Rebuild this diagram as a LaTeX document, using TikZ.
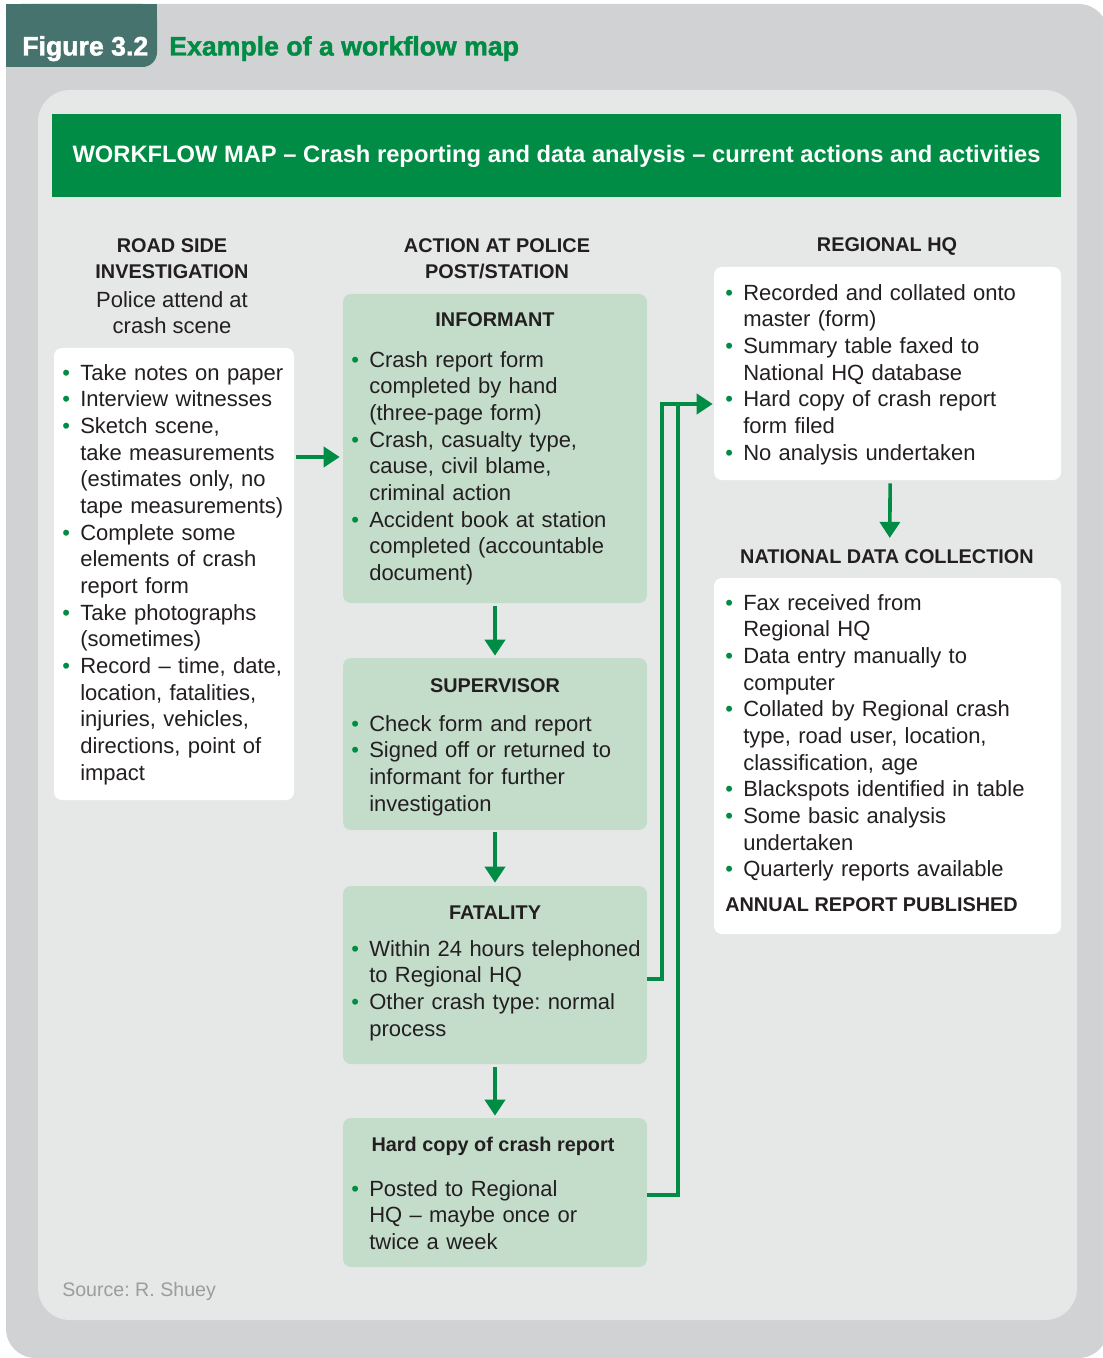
\documentclass[tikz,border=0pt]{standalone}
\usepackage{fontspec}
\setmainfont{Liberation Sans}
\newfontfamily\heavyfont{Liberation Sans}[BoldFeatures={FakeBold=1.6}]
\usetikzlibrary{arrows.meta,fit,calc}
\definecolor{outerg}{HTML}{D1D2D4}
\definecolor{innerg}{HTML}{E6E8E7}
\definecolor{tabc}{HTML}{47736F}
\definecolor{fgreen}{HTML}{008C44}
\definecolor{lgreen}{HTML}{C4DDCA}
\definecolor{txtc}{HTML}{231F20}
\definecolor{srcg}{HTML}{9B9C9E}
\newcommand\bitem{\par\hangindent=13.5pt\hangafter=1\noindent\makebox[13.5pt][l]{\textcolor{fgreen}{\textbullet}}\strut}
\newcommand\brk{\newline}
\frenchspacing
\begin{document}
\frenchspacing
\begin{tikzpicture}[x=0.75pt,y=-0.75pt,
  body/.style={font=\fontsize{16.5}{20}\selectfont\frenchspacing, text=txtc, inner sep=0pt, align=left, anchor=north west},
  headc/.style={font=\fontsize{14.9}{20}\selectfont\bfseries, text=txtc, inner sep=0pt, align=center},
  wbox/.style={fill=white, rounded corners=6pt, inner sep=0pt},
  gbox/.style={fill=lgreen, rounded corners=6pt, inner sep=0pt},
  conn/.style={draw=fgreen, line width=2.7pt, line join=miter},
  arr/.style={conn, -{Triangle[length=12pt,width=15pt]}}
]
\useasboundingbox (0,0) rectangle (1102,1358);
% panels
\fill[outerg, rounded corners=22pt] (6,4) rectangle (1108,1358);
\fill[tabc, rounded corners=11pt] (6,4) rectangle (157,67);
\fill[tabc] (6,4) rectangle (135,67);
\fill[tabc] (6,4) rectangle (157,45);
\fill[innerg, rounded corners=24pt] (38,90) rectangle (1077,1320);
% title
\node[anchor=base west, inner sep=0pt, text=white, font=\fontsize{20}{24}\heavyfont\bfseries] (figno) at (22,55.5) {Figure 3.2};
\node[anchor=base west, inner sep=0pt, text=fgreen, font=\fontsize{20}{24}\heavyfont\bfseries] (figtitle) at (169,55.5) {Example of a workflow map};
% banner
\node[fit={(52,114) (1061,197)}, inner sep=0pt, fill=fgreen] (banner) {};
\node[anchor=base, inner sep=0pt, text=white, font=\fontsize{17.8}{22}\selectfont\bfseries] (bannertxt) at (556.5,163) {WORKFLOW MAP -- Crash reporting and data analysis -- current actions and activities};
% column headings
\node[headc, anchor=north] (roadhead) at (172,233.3) {\strut ROAD SIDE\\INVESTIGATION};
\node[body, align=center, anchor=north] (roadsub) at (172,288.3) {\strut Police attend at\\crash scene};
\node[headc, anchor=north] (policehead) at (497,233.3) {\strut ACTION AT POLICE\\POST/STATION};
\node[headc, anchor=base] (hqhead) at (887,252) {REGIONAL HQ};
\node[headc, anchor=base] (nathead) at (887,563) {NATIONAL DATA COLLECTION};
% boxes
\node[wbox, fit={(54,348) (294,800)}] (road) {};
\node[gbox, fit={(343,294) (647,603)}] (informant) {};
\node[gbox, fit={(343,658) (647,830)}] (supervisor) {};
\node[gbox, fit={(343,886) (647,1064)}] (fatality) {};
\node[gbox, fit={(343,1118) (647,1267)}] (hardcopy) {};
\node[wbox, fit={(714,267) (1061,480)}] (regional) {};
\node[wbox, fit={(714,578) (1061,934)}] (national) {};
% road side text
\node[body, text width=185pt] (roadtxt) at (62,353.3) {%
\bitem Take notes on paper
\bitem Interview witnesses
\bitem Sketch scene,\brk take measurements\brk (estimates only, no\brk tape measurements)
\bitem Complete some\brk elements of crash\brk report form
\bitem Take photographs\brk (sometimes)
\bitem Record -- time, date,\brk location, fatalities,\brk injuries, vehicles,\brk directions, point of\brk impact\par};
% informant
\node[headc, anchor=base] (inftitle) at (495,327) {INFORMANT};
\node[body, text width=220pt] (inftxt) at (351,340.3) {%
\bitem Crash report form\brk completed by hand\brk (three-page form)
\bitem Crash, casualty type,\brk cause, civil blame,\brk criminal action
\bitem Accident book at station\brk completed (accountable\brk document)\par};
% supervisor
\node[headc, anchor=base] (suptitle) at (495,692) {SUPERVISOR};
\node[body, text width=220pt] (suptxt) at (351,704.3) {%
\bitem Check form and report
\bitem Signed off or returned to\brk informant for further\brk investigation\par};
% fatality
\node[headc, anchor=base] (fattitle) at (495,919) {FATALITY};
\node[body, text width=220pt] (fattxt) at (351,929.3) {%
\bitem Within 24 hours telephoned\brk to Regional HQ
\bitem Other crash type: normal\brk process\par};
% hard copy
\node[headc, anchor=base] (hctitle) at (493,1151) {Hard copy of crash report};
\node[body, text width=220pt] (hctxt) at (351,1169.3) {%
\bitem Posted to Regional\brk HQ -- maybe once or\brk twice a week\par};
% regional
\node[body, text width=250pt] (regtxt) at (725,273.3) {%
\bitem Recorded and collated onto\brk master (form)
\bitem Summary table faxed to\brk National HQ database
\bitem Hard copy of crash report\brk form filed
\bitem No analysis undertaken\par};
% national
\node[body, text width=250pt] (nattxt) at (725,583.3) {%
\bitem Fax received from\brk Regional HQ
\bitem Data entry manually to\brk computer
\bitem Collated by Regional crash\brk type, road user, location,\brk classification, age
\bitem Blackspots identified in table
\bitem Some basic analysis\brk undertaken
\bitem Quarterly reports available\par};
\node[headc, anchor=base west] (annual) at (725,911) {ANNUAL REPORT PUBLISHED};
% source
\node[anchor=base west, inner sep=0pt, text=srcg, font=\fontsize{14.7}{18}\selectfont\frenchspacing] (source) at (62,1296) {Source: R. Shuey};
% connectors
\coordinate (rowA) at (0,457);
\draw[arr, shorten <=1.5pt, shorten >=2.25pt] (road.east |- rowA) -- (informant.west |- rowA);
\draw[arr, shorten <=2.25pt, shorten >=1.5pt] (informant.south) -- (supervisor.north);
\draw[arr, shorten <=1.5pt, shorten >=2.25pt] (supervisor.south) -- (fatality.north);
\draw[arr, shorten <=2.25pt, shorten >=1.5pt] (fatality.south) -- (hardcopy.north);
\coordinate (busA) at (662,404);
\coordinate (busB) at (678,404);
\draw[conn] ([yshift=-1.9pt]hardcopy.east) -| (busB);
\draw[arr, shorten >=0.75pt] ([yshift=-3pt]fatality.east) -| (busA) -- (regional.west |- busA);
\draw[arr, shorten <=2.25pt, shorten >=8.2pt] ([xshift=2pt]regional.south) -- ([xshift=2pt]nathead.north);
\end{tikzpicture}
\end{document}
